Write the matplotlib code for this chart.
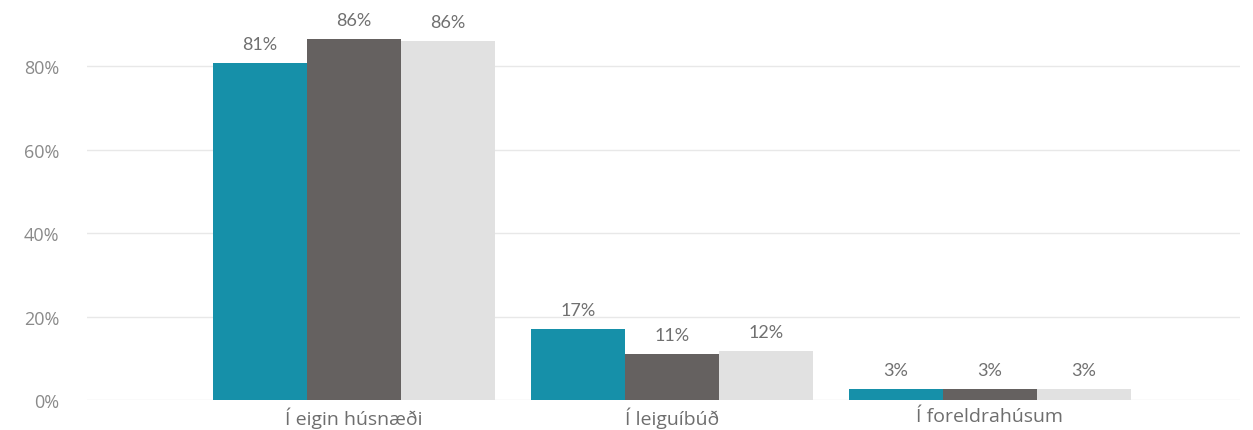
import matplotlib
matplotlib.use("Agg")
import matplotlib.pyplot as plt
import numpy as np

categories = ["Í eigin húsnæði", "Í leiguíbúð", "Í foreldrahúsum"]
series_a = [80.7, 17.0, 2.6]
series_b = [86.5, 11.0, 2.6]
series_c = [86.0, 11.7, 2.6]
labels_a = ["81%", "17%", "3%"]
labels_b = ["86%", "11%", "3%"]
labels_c = ["86%", "12%", "3%"]
yticks = [0, 20, 40, 60, 80]

colors = ["#1690A9", "#656160", "#E1E1E1"]

fig = plt.figure(figsize=(12.53, 4.31), dpi=100)
ax = fig.add_axes([87/1253, 1-401/431, (1240-87)/1253, 401/431])

x = np.arange(len(categories))
w = 94/318
for i, (vals, labs) in enumerate([(series_a, labels_a), (series_b, labels_b), (series_c, labels_c)]):
    pos = x + (i-1)*w
    ax.bar(pos, vals, width=w, color=colors[i], zorder=3, linewidth=0)
    for p, v, l in zip(pos, vals, labs):
        ax.annotate(l, (p, v), xytext=(0, 8), textcoords="offset points",
                    ha="center", va="bottom", fontsize=13, color="#707070",
                    family="Lato")

ax.set_xlim((87-354)/318, (1240-354)/318)
ax.set_ylim(0, 96.05)
ax.set_yticks(yticks)
ax.set_yticklabels([f"{t}%" for t in yticks], family="Open Sans", fontsize=13, color="#8A8A8A")
ax.set_xticks(x)
ax.set_xticklabels(categories, family="Open Sans", fontsize=14, color="#6E6E6E")
ax.tick_params(axis="both", length=0)
ax.tick_params(axis="y", pad=20)
ax.tick_params(axis="x", pad=5)
ax.grid(axis="y", color="#E8E8E8", linewidth=1, zorder=0)
for s in ax.spines.values():
    s.set_visible(False)

fig.savefig("out.png", dpi=100)
